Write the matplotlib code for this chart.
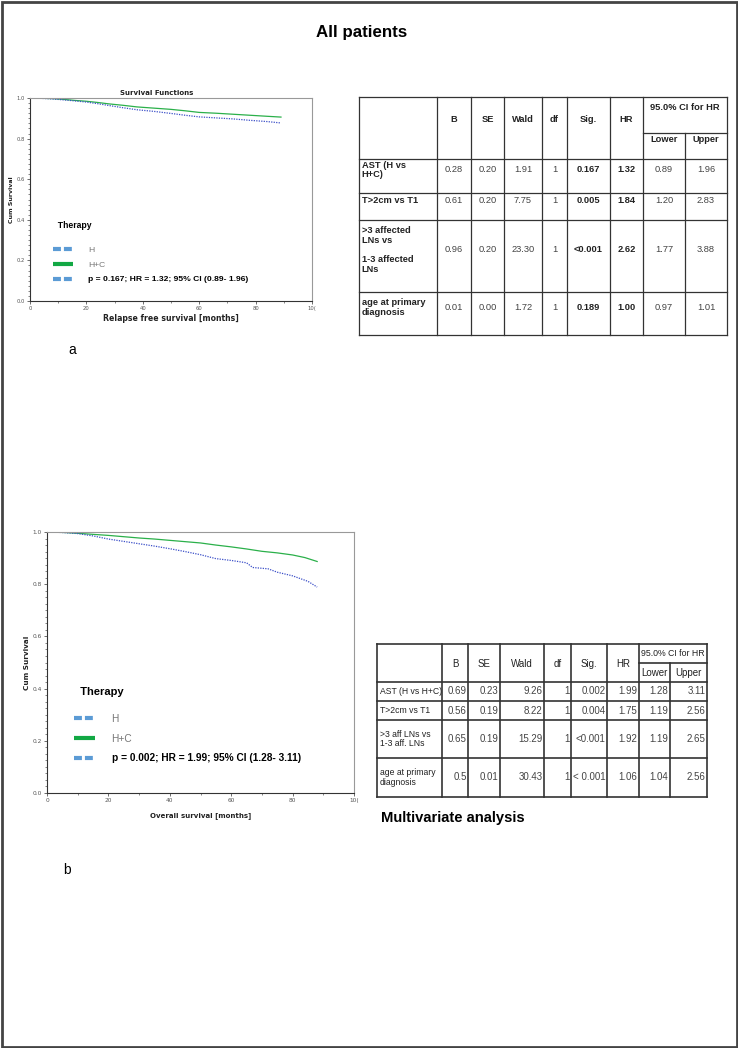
import numpy as np
import matplotlib
matplotlib.use("Agg")
import matplotlib.pyplot as plt
from matplotlib.lines import Line2D
from matplotlib.patches import Rectangle
from matplotlib.ticker import MultipleLocator

# ---- data: Kaplan-Meier estimates ----
# relapse free survival (panel a)
rfs_hc_t = [0, 8, 12, 16, 20, 24, 28, 33, 38, 44, 50, 55, 60, 66, 72, 78, 84, 89]
rfs_hc_s = [1.0, 0.997, 0.993, 0.988, 0.984, 0.978, 0.971, 0.964, 0.956, 0.950, 0.944, 0.937, 0.929, 0.925, 0.920, 0.915, 0.910, 0.906]
rfs_h_t = [0, 6, 10, 15, 20, 24, 28, 33, 38, 44, 50, 55, 60, 66, 72, 78, 84, 89]
rfs_h_s = [1.0, 0.997, 0.993, 0.987, 0.980, 0.972, 0.963, 0.952, 0.942, 0.934, 0.924, 0.915, 0.907, 0.902, 0.897, 0.890, 0.884, 0.877]

# overall survival (panel b)
os_hc_t = [0, 6, 10, 15, 20, 25, 30, 35, 40, 45, 50, 55, 60, 65, 70, 75, 80, 84, 88]
os_hc_s = [1.0, 0.998, 0.995, 0.991, 0.987, 0.982, 0.977, 0.973, 0.968, 0.963, 0.958, 0.950, 0.943, 0.935, 0.926, 0.920, 0.912, 0.902, 0.887]
os_h_t = [0, 5, 10, 15, 20, 25, 30, 35, 40, 45, 50, 55, 60, 65, 67, 72, 75, 80, 85, 88]
os_h_s = [1.0, 0.998, 0.994, 0.985, 0.973, 0.964, 0.955, 0.946, 0.936, 0.925, 0.913, 0.898, 0.891, 0.882, 0.864, 0.859, 0.846, 0.832, 0.811, 0.789]

legend_labels_a = ["H", "H+C", "p = 0.167; HR = 1.32; 95% CI (0.89- 1.96)"]
legend_labels_b = ["H", "H+C", "p = 0.002; HR = 1.99; 95% CI (1.28- 3.11)"]

# ---- data: Cox regression tables ----
tab_cols = ["B", "SE", "Wald", "df", "Sig.", "HR"]
ci_head = "95.0% CI for HR"
ci_cols = ["Lower", "Upper"]

tab_a_rows = ["AST (H vs\nH+C)", "T>2cm vs T1", ">3 affected\nLNs vs\n\n1-3 affected\nLNs", "age at primary\ndiagnosis"]
tab_a_vals = [
    ["0.28", "0.20", "1.91", "1", "0.167", "1.32", "0.89", "1.96"],
    ["0.61", "0.20", "7.75", "1", "0.005", "1.84", "1.20", "2.83"],
    ["0.96", "0.20", "23.30", "1", "<0.001", "2.62", "1.77", "3.88"],
    ["0.01", "0.00", "1.72", "1", "0.189", "1.00", "0.97", "1.01"],
]

tab_b_rows = ["AST (H vs H+C)", "T>2cm vs T1", ">3 aff LNs vs\n1-3 aff. LNs", "age at primary\ndiagnosis"]
tab_b_vals = [
    ["0.69", "0.23", "9.26", "1", "0.002", "1.99", "1.28", "3.11"],
    ["0.56", "0.19", "8.22", "1", "0.004", "1.75", "1.19", "2.56"],
    ["0.65", "0.19", "15.29", "1", "<0.001", "1.92", "1.19", "2.65"],
    ["0.5", "0.01", "30.43", "1", "< 0.001", "1.06", "1.04", "2.56"],
]

W, H = 738, 1048
fig = plt.figure(figsize=(W / 100, H / 100), dpi=100)
fig.patch.set_facecolor("white")

blue_line = "#3b4fc8"
green_line = "#2bb04a"
blue_leg = "#5b9bd5"
green_leg = "#12a844"
SANS = "Liberation Sans"


def px_axes(l, t, r, b):
    return fig.add_axes([l / W, 1 - b / H, (r - l) / W, (b - t) / H])


def km_plot(ax, h_t, h_s, hc_t, hc_s, labels, fs, ylab_fs, xlabel, xl_fs, xl_pad, leg_anchor,
            leg_fs, title_fs, spacing, sep, hlen, hpad, title=None):
    ax.plot(hc_t, hc_s, color=green_line, lw=0.9)
    ax.plot(h_t, h_s, color=blue_line, lw=0.9, ls=(0, (1, 1)))
    ax.set_xlim(0, 100)
    ax.set_ylim(0, 1.0)
    ax.set_xticks([0, 20, 40, 60, 80, 100])
    ax.set_xticklabels(["0", "20", "40", "60", "80", "10("])
    ax.set_yticks([0, 0.2, 0.4, 0.6, 0.8, 1.0])
    ax.set_yticklabels(["0.0", "0.2", "0.4", "0.6", "0.8", "1.0"])
    ax.xaxis.set_minor_locator(MultipleLocator(10))
    ax.yaxis.set_minor_locator(MultipleLocator(0.025))
    ax.tick_params(labelsize=fs, colors="#555555", length=2.5, width=0.6, pad=1)
    ax.tick_params(which="minor", length=1.5, width=0.5, colors="#555555")
    for side in ["top", "right"]:
        ax.spines[side].set_color("#999999")
        ax.spines[side].set_linewidth(0.8)
    for side in ["left", "bottom"]:
        ax.spines[side].set_color("#333333")
        ax.spines[side].set_linewidth(0.8)
    ax.set_ylabel("Cum Survival", fontsize=ylab_fs, fontweight="bold", color="#222222", labelpad=2)
    ax.set_xlabel(xlabel, fontsize=xl_fs, fontweight="bold", color="#222222", labelpad=xl_pad)
    if title:
        ax.set_title(title, fontsize=5.0, fontweight="bold", color="#222222", pad=2, x=0.45)
    dash = (0, (1.9, 0.72))
    handles = [
        Line2D([], [], color=blue_leg, lw=3, ls=dash),
        Line2D([], [], color=green_leg, lw=3, solid_capstyle="butt"),
        Line2D([], [], color=blue_leg, lw=3, ls=dash),
    ]
    leg = ax.legend(handles, labels, title="  Therapy", loc="upper left", bbox_to_anchor=leg_anchor,
                    frameon=False, prop={"family": SANS, "size": leg_fs}, handlelength=hlen,
                    handletextpad=hpad, labelspacing=spacing, borderaxespad=0, borderpad=0,
                    alignment="left")
    leg.get_title().set_fontsize(title_fs)
    leg.get_title().set_fontweight("bold")
    leg.get_title().set_family(SANS)
    texts = leg.get_texts()
    texts[0].set_color("#777777")
    texts[1].set_color("#777777")
    texts[2].set_fontweight("bold")
    leg._legend_box.sep = sep


# panel a
ax_a = px_axes(30, 98, 312, 301)
km_plot(ax_a, rfs_h_t, rfs_h_s, rfs_hc_t, rfs_hc_s, legend_labels_a, 3.8, 4.5,
        "Relapse free survival [months]", 5.6, 2, (0.082, 0.395), 6.1, 6.2, 0.78, 12, 2.35, 1.75,
        title="Survival Functions")

# panel b
ax_b = px_axes(47, 532, 354, 793)
km_plot(ax_b, os_h_t, os_h_s, os_hc_t, os_hc_s, legend_labels_b, 4.2, 5.2,
        "Overall survival [months]", 5.0, 6.5, (0.088, 0.405), 7.3, 8.0, 0.95, 12, 2.1, 1.6)

# overlay for texts, tables and frame (pixel coordinates)
ov = fig.add_axes([0, 0, 1, 1], zorder=-1)
ov.set_xlim(0, W)
ov.set_ylim(H, 0)
ov.axis("off")
ov.add_patch(Rectangle((1.5, 1.5), W - 3, H - 3, fill=False, ec="#444444", lw=2))

ov.text(362, 32, "All patients", ha="center", va="center", fontsize=12.2, fontweight="bold", family=SANS)
ov.text(72, 350, "a", ha="center", va="center", fontsize=10, family=SANS)
ov.text(67, 870, "b", ha="center", va="center", fontsize=10, family=SANS)
ov.text(381, 818, "Multivariate analysis", ha="left", va="center", fontsize=10.6, fontweight="bold",
        family=SANS)


def draw_table(xs, ys, ci_y, rows, vals, style):
    lw = style["lw"]
    col = "#333333"
    for i, x in enumerate(xs):
        top = ci_y if i == len(xs) - 2 else ys[0]
        ov.plot([x, x], [top, ys[-1]], color=col, lw=lw, solid_capstyle="projecting")
    for y in ys:
        ov.plot([xs[0], xs[-1]], [y, y], color=col, lw=lw, solid_capstyle="projecting")
    ov.plot([xs[-3], xs[-1]], [ci_y, ci_y], color=col, lw=lw)
    fam = style["family"]
    fs = style["fs"]
    # header
    for i, name in enumerate(tab_cols):
        ov.text((xs[i + 1] + xs[i + 2]) / 2, style["head_y"], name, ha="center", va="center",
                fontsize=fs, fontweight=style["head_w"], family=fam, color="#222222")
    ov.text((xs[-3] + xs[-1]) / 2, style["ci_head_y"], ci_head, ha="center", va="center",
            fontsize=style["ci_fs"], fontweight=style["head_w"], family=fam, color="#222222")
    for j, name in enumerate(ci_cols):
        ov.text((xs[-3 + j] + xs[-2 + j]) / 2, style["ci_sub_y"], name, ha="center", va="center",
                fontsize=fs, fontweight=style["head_w"], family=fam, color="#222222")
    # body
    for r, label in enumerate(rows):
        y0, y1 = ys[r + 1], ys[r + 2]
        ym = (y0 + y1) / 2 + style["dy"]
        ov.text(xs[0] + 2.5, ym, label, ha="left", va="center", fontsize=style["lab_fs"],
                fontweight=style["label_w"], family=fam, color="#222222", linespacing=1.1)
        for c, v in enumerate(vals[r]):
            bold = style["bold_cols"] and c in (4, 5)
            if style["align"] == "center":
                xx, ha = (xs[c + 1] + xs[c + 2]) / 2, "center"
            else:
                xx, ha = xs[c + 2] - 1.5, "right"
            ov.text(xx, ym, v, ha=ha, va="center", fontsize=fs, family=fam,
                    fontweight="bold" if bold else "normal",
                    color="#222222" if bold else "#444444")


# table a
xs_a = [359, 437, 471, 504, 542, 567, 610, 643, 685, 727]
ys_a = [97, 159, 193, 220, 292, 335]
draw_table(xs_a, ys_a, 133, tab_a_rows, tab_a_vals,
           dict(lw=0.9, family=SANS, fs=6.7, lab_fs=6.7, ci_fs=6.7, head_w="bold", head_y=120,
                ci_head_y=108, ci_sub_y=139, label_w="bold", bold_cols=True, align="center", dy=-6))

# table b
xs_b = [377, 442, 468, 500, 544, 571, 607, 639, 670, 707]
ys_b = [644, 682, 701, 720, 758, 797]
draw_table(xs_b, ys_b, 663, tab_b_rows, tab_b_vals,
           dict(lw=1.2, family=SANS, fs=7.0, lab_fs=6.2, ci_fs=6.3, head_w="normal", head_y=664,
                ci_head_y=654, ci_sub_y=673, label_w="normal", bold_cols=False, align="right", dy=0))

fig.savefig("out.png", dpi=100)
